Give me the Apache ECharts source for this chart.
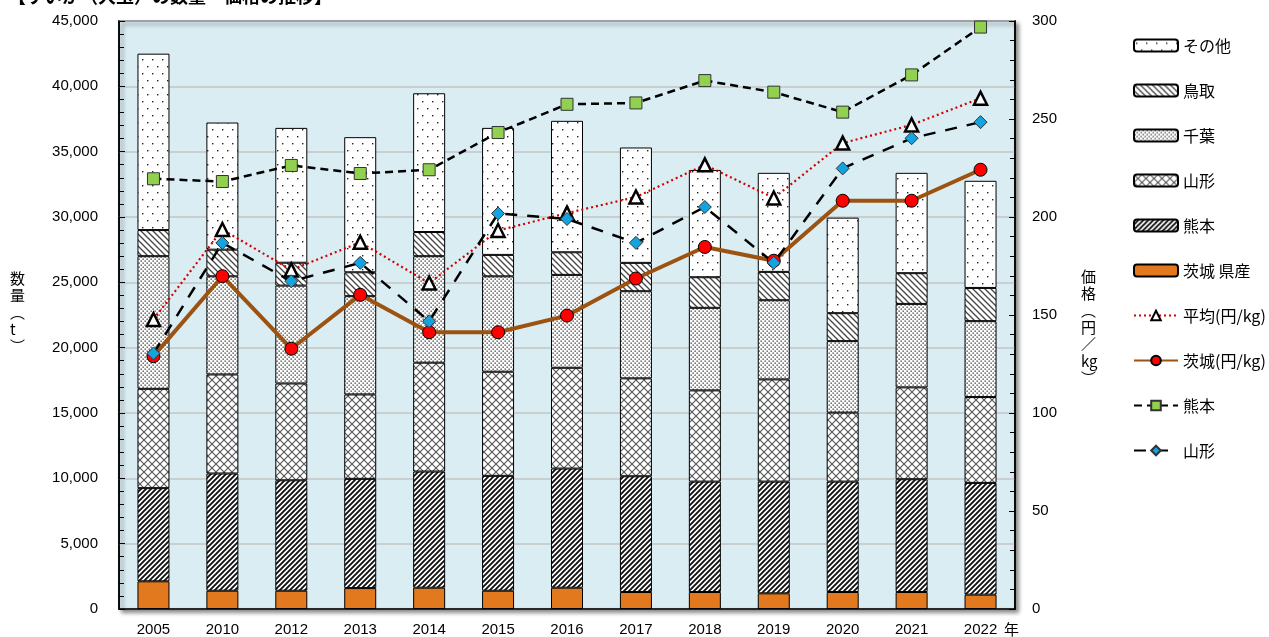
<!DOCTYPE html>
<html><head><meta charset="utf-8">
<script src="https://cdn.jsdelivr.net/npm/echarts@6/dist/echarts.min.js"></script>
<style>html,body{margin:0;padding:0;background:#fff}#c{width:1269px;height:637px}</style>
</head><body><div id="c"></div>
<script>
const years = ['2005','2010','2012','2013','2014','2015','2016','2017','2018','2019','2020','2021','2022'];
const ibarakiQty = [2120,1400,1400,1600,1630,1400,1630,1300,1300,1200,1300,1300,1100];
const kumamotoQty = [7130,8970,8450,8360,8890,8790,9120,8860,8450,8550,8450,8630,8550];
const yamagataQty = [7600,7580,7410,6460,8330,7970,7710,7490,6980,7820,5280,7030,6570];
const chibaQty = [10150,7510,7490,7520,8150,7300,7110,6670,6320,6060,5470,6390,5810];
const tottoriQty = [2000,2040,1750,1830,1850,1640,1730,2170,2340,2170,2140,2350,2540];
const otherQty = [13500,9730,10320,10340,10620,9720,10060,8830,8210,7580,7310,7680,8200];
const avgPrice = [147.7,193.6,173.0,187.1,166.3,193.1,202.0,210.2,226.6,209.7,237.7,247.0,260.6];
const ibarakiPrice = [129.0,169.8,132.8,160.3,141.2,141.2,149.7,168.6,184.7,177.7,208.3,208.3,224.1];
const kumamotoPrice = [219.5,218.1,226.3,222.2,224.1,243.1,257.5,258.2,269.6,263.7,253.5,272.5,296.9];
const yamagataPrice = [130.4,186.8,167.2,176.6,146.8,201.8,199.0,186.8,205.1,176.6,224.8,240.2,248.4];

function pat(w,h,draw){const c=document.createElement('canvas');c.width=w;c.height=h;const x=c.getContext('2d');x.fillStyle='#fff';x.fillRect(0,0,w,h);draw(x);return {image:c,repeat:'repeat'};}
const pOther = pat(10,14,x=>{x.fillStyle='#222';x.fillRect(2,3,1.4,1.4);x.fillRect(7,10,1.4,1.4);});
const pTottori = pat(6,6,x=>{x.strokeStyle='#444';x.lineWidth=1.3;x.beginPath();x.moveTo(-1,-1);x.lineTo(7,7);x.moveTo(-1,5);x.lineTo(1,7);x.moveTo(5,-1);x.lineTo(7,1);x.stroke();});
const pChiba = pat(4,4,x=>{x.fillStyle='#333';x.fillRect(0.5,0.5,1.3,1.3);x.fillRect(2.5,2.5,1.3,1.3);});
const pYamagata = pat(8,8,x=>{x.strokeStyle='#555';x.lineWidth=1.1;x.beginPath();x.moveTo(0,0);x.lineTo(8,8);x.moveTo(8,0);x.lineTo(0,8);x.stroke();});
const pKumamoto = pat(5,5,x=>{x.strokeStyle='#111';x.lineWidth=1.9;x.beginPath();x.moveTo(-1,6);x.lineTo(6,-1);x.moveTo(-1,1);x.lineTo(1,-1);x.moveTo(4,6);x.lineTo(6,4);x.stroke();});

const chart = echarts.init(document.getElementById('c'));
const fontN = 'Liberation Sans, Arial, sans-serif';
const fontJ = 'Noto Sans CJK JP, sans-serif';
function bar(name,data,color){return {name,type:'bar',stack:'q',data,barWidth:32,itemStyle:{color,borderColor:'#000',borderWidth:1},emphasis:{disabled:true}};}
function line(name,data,color,width,type,symbol,size,fill,bw,bc){return {name,type:'line',yAxisIndex:1,data,z:5,symbol,symbolSize:size,lineStyle:{color,width,type},itemStyle:{color:fill,borderColor:bc,borderWidth:bw},emphasis:{disabled:true}};}
chart.setOption({
  animation:false,
  grid:{left:119,right:254,top:21,bottom:27,show:true,backgroundColor:'#daedf3',borderColor:'#000',borderWidth:1.5,shadowColor:'rgba(0,0,0,0.45)',shadowBlur:4,shadowOffsetX:3,shadowOffsetY:3},
  legend:{orient:'vertical',left:1128,top:32,itemWidth:44,itemHeight:12,itemGap:28,textStyle:{fontFamily:fontJ,fontSize:16,color:'#000',lineHeight:17},
    data:['その他','鳥取','千葉','山形','熊本','茨城 県産','平均(円/kg)','茨城(円/kg)','熊本 ','山形 ']},
  xAxis:{type:'category',data:years,boundaryGap:true,axisLine:{lineStyle:{color:'#000',width:1.5}},axisTick:{inside:true,length:5,lineStyle:{color:'#000'}},axisLabel:{fontFamily:fontN,fontSize:15,color:'#000',margin:13}},
  yAxis:[
    {type:'value',min:0,max:45000,interval:5000,axisLine:{show:true,lineStyle:{color:'#000',width:1.5}},axisTick:{show:true,inside:true,length:6,lineStyle:{color:'#000'}},minorTick:{show:true,splitNumber:5,length:5,lineStyle:{color:'#000'}},
     splitLine:{lineStyle:{color:'#c3c3c3',width:1.5}},axisLabel:{fontFamily:fontN,fontSize:15,color:'#000',margin:21,formatter:v=>v.toLocaleString('en-US')}},
    {type:'value',min:0,max:300,interval:50,axisLine:{show:true,lineStyle:{color:'#000',width:1.5}},axisTick:{show:true,inside:true,length:6,lineStyle:{color:'#000'}},minorTick:{show:true,splitNumber:5,length:5,lineStyle:{color:'#000'}},
     splitLine:{show:false},axisLabel:{fontFamily:fontN,fontSize:15,color:'#000',margin:17}}
  ],
  series:[
    bar('茨城 県産',ibarakiQty,'#e2791e'),
    bar('熊本',kumamotoQty,pKumamoto),
    bar('山形',yamagataQty,pYamagata),
    bar('千葉',chibaQty,pChiba),
    bar('鳥取',tottoriQty,pTottori),
    bar('その他',otherQty,pOther),
    line('平均(円/kg)',avgPrice,'#d40000',2.2,[2,3],'triangle',13,'#fff',2.5,'#000'),
    line('茨城(円/kg)',ibarakiPrice,'#9c5210',4,'solid','circle',13,'#ff0000',1,'#000'),
    line('熊本 ',kumamotoPrice,'#000',2.5,[8,5],'rect',12,'#92d050',1,'#333'),
    line('山形 ',yamagataPrice,'#000',2.5,[12,10],'diamond',13,'#12a3e0',1,'#333')
  ],
  graphic:[
    {type:'text',left:8,top:-13,style:{text:'【すいか（大玉）の数量・価格の推移】',font:'bold 18px '+fontJ,fill:'#000'}},
    {type:'text',left:1004,top:622,style:{text:'年',font:'15px '+fontJ,fill:'#000'}},
    {type:'text',left:10,top:270,style:{text:'数\n量\n︵\nt\n︶',font:'15px '+fontJ,lineHeight:17,fill:'#000',align:'center'}},
    {type:'text',left:1081,top:268,style:{text:'価\n格\n︵\n円\n／\nkg\n︶',font:'15px '+fontJ,lineHeight:17,fill:'#000',align:'center'}}
  ]
});
</script></body></html>
